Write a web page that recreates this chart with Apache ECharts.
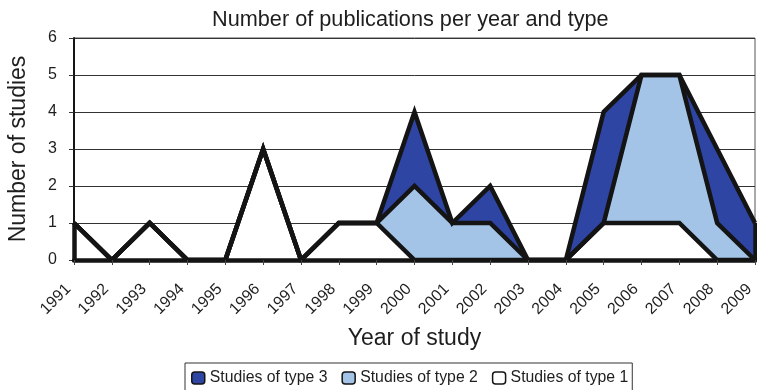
<!DOCTYPE html>
<html>
<head>
<meta charset="utf-8">
<script src="https://cdn.jsdelivr.net/npm/echarts@6/dist/echarts.min.js"></script>
<style>
  html, body { margin: 0; padding: 0; background: #fff; }
  #chart { width: 757px; height: 390px; }
</style>
</head>
<body>
<div id="chart"></div>
<script>
// Publications per year, split by study type
const years = ['1991','1992','1993','1994','1995','1996','1997','1998','1999','2000',
               '2001','2002','2003','2004','2005','2006','2007','2008','2009'];
const type1 = [1,0,1,0,0,3,0,1,1,0,0,0,0,0,1,1,1,0,0];
const type2 = [0,0,0,0,0,0,0,0,0,2,1,1,0,0,0,4,4,1,0];
const type3 = [0,0,0,0,0,0,0,0,0,2,0,1,0,0,3,0,0,2,1];
const yTicks = [0,1,2,3,4,5,6];

const names = ['Studies of type 1', 'Studies of type 2', 'Studies of type 3'];
const fills = ['#ffffff', '#a3c4e7', '#2e45a3'];
const values = [type1, type2, type3];
const outline = '#141414';
const font = '"Liberation Sans", Arial, sans-serif';

const lastIdx = years.length - 1;
const total = i => type1[i] + type2[i] + type3[i];

// filled stacked areas (no outline)
const areaSeries = values.map((v, k) => ({
  name: names[k],
  type: 'line',
  stack: 'areas',
  data: v,
  symbol: 'none',
  color: fills[k],
  itemStyle: { color: fills[k], borderColor: outline, borderWidth: 1.5 },
  lineStyle: { width: 0 },
  areaStyle: { color: fills[k], opacity: 1 },
  z: 2
}));

// thick outlines drawn on top of every fill
const lineSeries = values.map((v, k) => ({
  name: names[k] + ' outline',
  type: 'line',
  stack: 'outlines',
  data: v,
  symbol: 'none',
  silent: true,
  lineStyle: { color: outline, width: 4.5, join: 'miter', miterLimit: 4 },
  z: 5,
  markLine: k === 2 ? {
    silent: true,
    symbol: 'none',
    label: { show: false },
    lineStyle: { color: outline, width: 4.5, type: 'solid' },
    data: [
      [{ coord: [0, 0] }, { coord: [0, total(0)] }],
      [{ coord: [lastIdx, 0] }, { coord: [lastIdx, total(lastIdx)] }]
    ]
  } : undefined
}));

const chart = echarts.init(document.getElementById('chart'), null, { renderer: 'canvas' });
chart.setOption({
  animation: false,
  backgroundColor: '#ffffff',
  textStyle: { fontFamily: font },
  title: {
    text: 'Number of publications per year and type',
    left: 207,
    top: 4,
    textStyle: { fontFamily: font, fontSize: 21.7, fontWeight: 'normal', color: '#1e1e1e' }
  },
  legend: {
    data: [names[2], names[1], names[0]],
    left: 185,
    top: 363,
    icon: 'roundRect',
    itemWidth: 13,
    itemHeight: 12,
    itemGap: 14,
    padding: [7, 4, 12, 6],
    borderColor: '#333',
    borderWidth: 1,
    itemStyle: { borderColor: outline, borderWidth: 1.5 },
    textStyle: { fontFamily: font, fontSize: 15.8, color: '#1e1e1e' }
  },
  grid: {
    left: 74,
    right: 2,
    top: 38,
    bottom: 130,
    outerBoundsMode: 'none',
    containLabel: false,
    show: true,
    borderColor: '#555',
    borderWidth: 1,
    backgroundColor: 'transparent'
  },
  xAxis: {
    type: 'category',
    data: years,
    boundaryGap: false,
    z: 10,
    name: 'Year of study',
    nameLocation: 'middle',
    nameGap: 67,
    nameTextStyle: { fontFamily: font, fontSize: 23, color: '#1e1e1e' },
    axisLine: { lineStyle: { color: outline, width: 4.5 } },
    axisTick: { show: true, length: 5, lineStyle: { color: '#444', width: 1 } },
    axisLabel: {
      rotate: 45, margin: 21, padding: [0, 8, 0, 0],
      fontFamily: font, fontSize: 16, color: '#1e1e1e', interval: 0
    },
    splitLine: { show: false }
  },
  yAxis: {
    type: 'value',
    min: yTicks[0],
    max: yTicks[yTicks.length - 1],
    interval: 1,
    name: 'Number of studies',
    nameLocation: 'middle',
    nameGap: 44,
    nameTextStyle: { fontFamily: font, fontSize: 23, color: '#1e1e1e' },
    axisLine: { show: true, lineStyle: { color: outline, width: 2 } },
    axisTick: { show: true, length: 5, lineStyle: { color: '#333', width: 1 } },
    axisLabel: { margin: 17, fontFamily: font, fontSize: 16, color: '#1e1e1e' },
    splitLine: { show: true, lineStyle: { color: '#333', width: 1 } }
  },
  series: areaSeries.concat(lineSeries)
});
</script>
</body>
</html>
